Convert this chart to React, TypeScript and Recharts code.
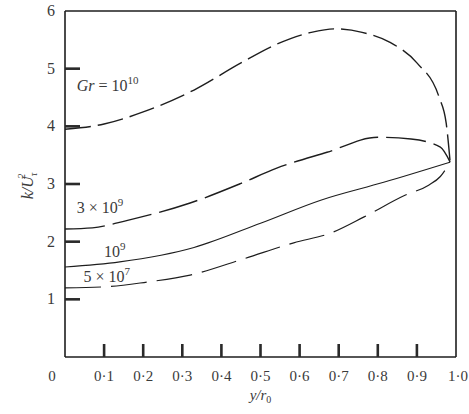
import { LineChart, Line, XAxis, YAxis, ReferenceDot, ReferenceLine } from "recharts"

// tick values and labels
const xTicks = [0, 0.1, 0.2, 0.3, 0.4, 0.5, 0.6, 0.7, 0.8, 0.9, 1]
const xTickLabels = ["0", "0·1", "0·2", "0·3", "0·4", "0·5", "0·6", "0·7", "0·8", "0·9", "1·0"]
const yTicks = [1, 2, 3, 4, 5, 6]
const yMarks = [1, 2, 3, 4, 5]

// Gr = 10^10
const gr10X = [0, 0.1, 0.2, 0.33, 0.45, 0.54, 0.63, 0.69, 0.76, 0.83, 0.9, 0.957, 0.975, 0.985]
const gr10Y = [3.95, 4.04, 4.25, 4.63, 5.1, 5.42, 5.63, 5.69, 5.63, 5.46, 5.1, 4.5, 4.05, 3.38]
// Gr = 3 x 10^9
const gr3e9X = [0, 0.07, 0.16, 0.32, 0.45, 0.54, 0.67, 0.8, 0.885, 0.96, 0.985]
const gr3e9Y = [2.22, 2.24, 2.37, 2.67, 3.01, 3.27, 3.55, 3.81, 3.78, 3.64, 3.38]
// Gr = 10^9
const gr1e9X = [0, 0.14, 0.33, 0.5, 0.654, 0.815, 0.985]
const gr1e9Y = [1.56, 1.65, 1.9, 2.32, 2.72, 3.03, 3.38]
// Gr = 5 x 10^7
const gr5e7X = [0, 0.11, 0.21, 0.32, 0.456, 0.585, 0.68, 0.765, 0.868, 0.93, 0.96, 0.985]
const gr5e7Y = [1.2, 1.22, 1.3, 1.42, 1.7, 1.98, 2.15, 2.43, 2.8, 2.98, 3.13, 3.38]

const toPoints = (xs: number[], ys: number[]) => xs.map((x, i) => ({ x, y: ys[i] }))

const ink = "#1e1e1e"
const markInk = "#2a2a2a"
const textInk = "#3a3a3a"
const serif = "'Liberation Serif', 'DejaVu Serif', serif"

// x tick: inner mark (not at the corners) plus label below the frame
function XTick(props: any) {
  const { x, y, payload, index } = props
  const v = payload.value
  const inner = v > 0.05 && v < 0.95
  const dx = v === 0 ? -13 : v === 1 ? 2 : 0
  return (
    <g>
      {inner && <rect x={x - 1.3} y={y - 13} width={2.6} height={13} fill={markInk} />}
      <text x={x + dx} y={y + 24} textAnchor="middle" fontSize={15} fill={textInk} fontFamily={serif}>
        {xTickLabels[index]}
      </text>
    </g>
  )
}

function YTick(props: any) {
  const { x, y, payload } = props
  return (
    <text x={x - 14} y={y + 5} textAnchor="middle" fontSize={16} fill={textInk} fontFamily={serif}>
      {payload.value}
    </text>
  )
}

function YLabel(props: any) {
  const vb = props.viewBox
  const cx = vb.x + 8
  const cy = vb.y + vb.height / 2 + 2
  return (
    <text
      x={cx}
      y={cy}
      transform={`rotate(-90, ${cx}, ${cy})`}
      textAnchor="middle"
      fontSize={16}
      fill={textInk}
      fontFamily={serif}
      fontStyle="italic"
    >
      k/U
      <tspan dy={4} fontSize={10}>τ</tspan>
      <tspan dx={-6} dy={-12} fontSize={10}>2</tspan>
    </text>
  )
}

function XLabel(props: any) {
  const vb = props.viewBox
  return (
    <text x={vb.x + vb.width / 2} y={vb.y + 43} textAnchor="middle" fontSize={15} fill={textInk} fontFamily={serif} fontStyle="italic">
      y/r<tspan dy={3} fontSize={10} fontStyle="normal">0</tspan>
    </text>
  )
}

function note(main: string, exp: string, italicGr = false) {
  return (p: any) => (
    <text x={p.cx} y={p.cy} fontSize={16} fill={textInk} fontFamily={serif}>
      {italicGr && <tspan fontStyle="italic">Gr</tspan>}
      {main}
      <tspan dy={-7} fontSize={11}>{exp}</tspan>
    </text>
  )
}

// inner y tick mark, anchored on the left frame
const rightMark = (p: any) => <rect x={p.cx} y={p.cy - 1.3} width={15} height={2.6} fill={markInk} />

export default function App() {
  return (
    <div style={{ position: "absolute", left: 0, top: 0, width: 469, height: 414, background: "#fff" }}>
      <LineChart width={469} height={414} margin={{ top: 11, right: 13, bottom: 27, left: 25 }}>
        <XAxis
          dataKey="x"
          type="number"
          domain={[0, 1]}
          ticks={xTicks}
          allowDuplicatedCategory={false}
          height={30}
          tickSize={0}
          tickMargin={0}
          tickLine={false}
          axisLine={{ stroke: ink, strokeWidth: 1.6 }}
          tick={(p: any) => <XTick {...p} />}
          label={{ content: XLabel }}
        />
        <YAxis
          type="number"
          domain={[0, 6]}
          ticks={yTicks}
          width={40}
          tickSize={0}
          tickMargin={0}
          tickLine={false}
          axisLine={{ stroke: ink, strokeWidth: 1.6 }}
          tick={(p: any) => <YTick {...p} />}
          label={{ content: YLabel }}
        />
        <ReferenceLine y={6} stroke={ink} strokeWidth={1.6} />
        <ReferenceLine x={1} stroke={ink} strokeWidth={1.6} />
        {yMarks.map((v) => (
          <ReferenceDot key={`ym${v}`} x={0} y={v} r={0} ifOverflow="visible" shape={rightMark} />
        ))}
        <Line data={toPoints(gr10X, gr10Y)} dataKey="y" type="monotone" stroke={ink} strokeWidth={1.4} strokeDasharray="26 7" dot={false} isAnimationActive={false} />
        <Line data={toPoints(gr3e9X, gr3e9Y)} dataKey="y" type="monotone" stroke={ink} strokeWidth={1.4} strokeDasharray="40 8" dot={false} isAnimationActive={false} />
        <Line data={toPoints(gr1e9X, gr1e9Y)} dataKey="y" type="monotone" stroke={ink} strokeWidth={1.1} dot={false} isAnimationActive={false} />
        <Line data={toPoints(gr5e7X, gr5e7Y)} dataKey="y" type="monotone" stroke={ink} strokeWidth={1.2} strokeDasharray="36 10" dot={false} isAnimationActive={false} />
        <ReferenceDot x={0.03} y={4.61} r={0} shape={note(" = 10", "10", true)} />
        <ReferenceDot x={0.03} y={2.5} r={0} shape={note("3 × 10", "9")} />
        <ReferenceDot x={0.1} y={1.73} r={0} shape={note("10", "9")} />
        <ReferenceDot x={0.047} y={1.3} r={0} shape={note("5 × 10", "7")} />
      </LineChart>
    </div>
  )
}
